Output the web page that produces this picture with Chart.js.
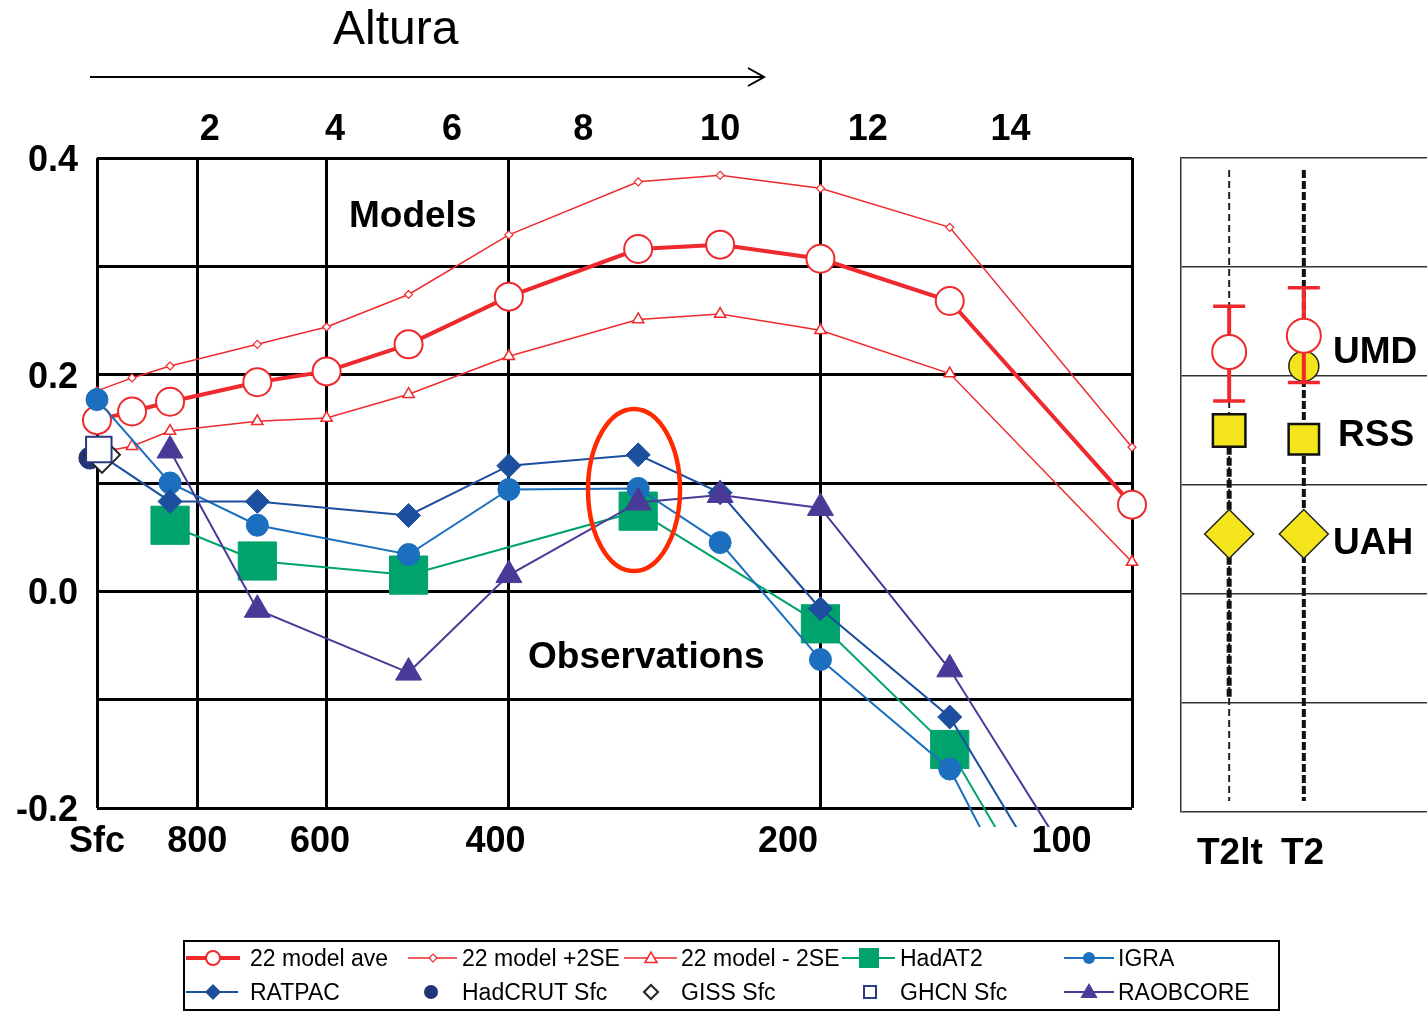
<!DOCTYPE html>
<html>
<head>
<meta charset="utf-8">
<script src="https://cdn.jsdelivr.net/npm/chart.js@4.4.1/dist/chart.umd.min.js"></script>
<style>
  html, body { margin: 0; padding: 0; background: #fff; }
  body { width: 1427px; height: 1012px; position: relative; overflow: hidden;
         font-family: "Liberation Sans", Arial, sans-serif; }
  canvas { position: absolute; }
  #main { left: 0; top: 0; }
  #side { left: 1170px; top: 140px; }
  .txt { position: absolute; line-height: 1; white-space: nowrap; color: #000; }
  .big { font-size: 37px; font-weight: bold; }
  .leg { font-size: 23px; }
  svg { position: absolute; left: 0; top: 0; }
</style>
</head>
<body>
<canvas id="main" width="1160" height="880"></canvas>
<canvas id="side" width="300" height="700"></canvas>

<svg width="1427" height="1012">
  <!-- altitude arrow -->
  <line x1="90" y1="77" x2="763" y2="77" stroke="#000" stroke-width="2"/>
  <path d="M748 68 L764 77 L748 86" stroke="#000" stroke-width="2" fill="none"/>
  <!-- highlight ellipse -->
  <ellipse cx="634" cy="490" rx="46" ry="81" fill="none" stroke="#ff2a00" stroke-width="4.5"/>
  <!-- legend box + icons -->
  <rect x="184" y="941" width="1095" height="69" fill="none" stroke="#000" stroke-width="2"/>
  <g id="legend-icons"></g>
</svg>

<div class="txt" style="left:333px;top:4px;font-size:48px;">Altura</div>
<div class="txt big" style="left:349px;top:196px;">Models</div>
<div class="txt big" style="left:528px;top:637px;">Observations</div>
<div class="txt big" style="left:1333px;top:332px;">UMD</div>
<div class="txt big" style="left:1338px;top:415px;">RSS</div>
<div class="txt big" style="left:1333px;top:523px;">UAH</div>
<div class="txt big" style="left:1197px;top:833px;">T2lt</div>
<div class="txt big" style="left:1281px;top:833px;">T2</div>

<div class="txt leg" style="left:250px;top:947px;">22 model ave</div>
<div class="txt leg" style="left:462px;top:947px;">22 model +2SE</div>
<div class="txt leg" style="left:681px;top:947px;">22 model - 2SE</div>
<div class="txt leg" style="left:900px;top:947px;">HadAT2</div>
<div class="txt leg" style="left:1118px;top:947px;">IGRA</div>
<div class="txt leg" style="left:250px;top:981px;">RATPAC</div>
<div class="txt leg" style="left:462px;top:981px;">HadCRUT Sfc</div>
<div class="txt leg" style="left:681px;top:981px;">GISS Sfc</div>
<div class="txt leg" style="left:900px;top:981px;">GHCN Sfc</div>
<div class="txt leg" style="left:1118px;top:981px;">RAOBCORE</div>

<script>
// Temperature trend profiles (K/decade) vs pressure level, models vs observations

// pressure levels (hPa), "Sfc" drawn at 1000
const P_LEVELS = [1000, 925, 850, 700, 600, 500, 400, 300, 250, 200, 150, 100];

const MODEL_AVE   = [0.158, 0.166, 0.175, 0.193, 0.203, 0.228, 0.272, 0.316, 0.320, 0.307, 0.268, 0.080];
const MODEL_PLUS  = [0.185, 0.197, 0.208, 0.228, 0.244, 0.274, 0.329, 0.378, 0.384, 0.372, 0.336, 0.133];
const MODEL_MINUS = [0.128, 0.134, 0.148, 0.157, 0.160, 0.182, 0.217, 0.251, 0.256, 0.241, 0.201, 0.027];

const RATPAC   = [0.128, null, 0.083, 0.083, null, 0.070, 0.116, 0.126, 0.091, -0.016, -0.116, -0.395];
const IGRA     = [0.177, null, 0.100, 0.061, null, 0.034, 0.094, 0.095, 0.045, -0.063, -0.164, -0.488];
const HADAT2   = [null, null, 0.061, 0.028, null, 0.015, null, 0.074, null, -0.030, -0.146, -0.433];
const RAOBCORE = [null, null, 0.130, -0.017, null, -0.075, 0.015, 0.082, 0.089, 0.077, -0.072, -0.340];

// surface-only records (pressure nudged a little so the markers sit side by side)
const HADCRUT_SFC = { p: 1016, v: 0.123 };
const GISS_SFC    = { p: 989,  v: 0.126 };
const GHCN_SFC    = { p: 996,  v: 0.131 };

// axis ticks
const GRID_P = [1000, 800, 600, 400, 200, 100];
const BOTTOM_TICK_P = [1000, 800, 609, 412, 215, 117];
const BOTTOM_TICK_TEXT = ["Sfc", "800", "600", "400", "200", "100"];
const ALT_TICK_P = [778, 589, 454, 339, 250, 180, 131];
const ALT_TICK_TEXT = ["2", "4", "6", "8", "10", "12", "14"];

// satellite layer panel
const TRACK_X = [1, 2.55];            // T2lt, T2
const UMD_MODEL = [0.222, 0.237];
const UMD_LO = [0.177, 0.194];
const UMD_HI = [0.264, 0.281];
const UMD_OBS = [null, 0.209];
const RSS = [0.150, 0.142];
const UAH = [0.055, 0.055];
const DASH_TOP = 0.389, DASH_BOTTOM = -0.190;
const T2LT_THICK = [0.135, -0.097];

const C = {
  red: "#ee2a2e",
  ratpac: "#1c4f9e",
  igra: "#1b6fbe",
  hadat: "#00a36b",
  raob: "#4a3a98",
  hadcrut: "#233479",
  giss: "#222222",
  ghcn: "#2a3a80",
  yellow: "#f3e41c",
};

const FONT = '"Liberation Sans", Arial, sans-serif';
const CLIP = { left: 40, top: 10, right: 25, bottom: 19 };

const levelPoints = (vals) => P_LEVELS.map((p, i) => ({ x: p, y: vals[i] }));

function obsSet(label, vals, color, style, radius) {
  return {
    label, data: levelPoints(vals),
    borderColor: color, borderWidth: 2, spanGaps: true, tension: 0, clip: CLIP,
    pointStyle: style, pointRadius: radius, pointBorderWidth: 1,
    pointBackgroundColor: color, pointBorderColor: color,
  };
}

function sfcSet(label, rec, style, radius, fill, stroke, bw) {
  return {
    label, data: [{ x: rec.p, y: rec.v }], showLine: false, clip: CLIP,
    pointStyle: style, pointRadius: radius, pointBorderWidth: bw,
    pointBackgroundColor: fill, pointBorderColor: stroke,
  };
}

// first dataset ends up on top
const mainSets = [
  sfcSet("GHCN Sfc", GHCN_SFC, "rect", 18, "#fff", C.ghcn, 2),
  sfcSet("GISS Sfc", GISS_SFC, "rectRot", 18, "#fff", C.giss, 2),
  sfcSet("HadCRUT Sfc", HADCRUT_SFC, "circle", 11, C.hadcrut, C.hadcrut, 1),
  obsSet("RAOBCORE", RAOBCORE, C.raob, "triangle", 15),
  obsSet("RATPAC", RATPAC, C.ratpac, "rectRot", 12),
  obsSet("IGRA", IGRA, C.igra, "circle", 11),
  obsSet("HadAT2", HADAT2, C.hadat, "rect", 27),
  {
    label: "22 model ave", data: levelPoints(MODEL_AVE),
    borderColor: C.red, borderWidth: 4, tension: 0, clip: CLIP,
    pointStyle: "circle", pointRadius: 14, pointBorderWidth: 2,
    pointBackgroundColor: "#fff", pointBorderColor: C.red,
  },
  {
    label: "22 model +2SE", data: levelPoints(MODEL_PLUS),
    borderColor: C.red, borderWidth: 1.5, tension: 0, clip: CLIP,
    pointStyle: "rectRot", pointRadius: 4, pointBorderWidth: 1.2,
    pointBackgroundColor: "#fff", pointBorderColor: C.red,
  },
  {
    label: "22 model - 2SE", data: levelPoints(MODEL_MINUS),
    borderColor: C.red, borderWidth: 1.5, tension: 0, clip: CLIP,
    pointStyle: "triangle", pointRadius: 6.5, pointBorderWidth: 1.5,
    pointBackgroundColor: "#fff", pointBorderColor: C.red,
  },
];

const tickFont = { family: FONT, size: 36, weight: "bold" };
const logAxis = { type: "logarithmic", axis: "x", reverse: true, min: 100, max: 1000 };

new Chart(document.getElementById("main"), {
  type: "line",
  data: { datasets: mainSets },
  options: {
    responsive: false,
    animation: false,
    events: [],
    layout: { padding: { left: 0, right: 28, top: 0, bottom: 0 } },
    plugins: { legend: { display: false }, tooltip: { enabled: false } },
    scales: {
      x: {
        ...logAxis, position: "bottom",
        afterBuildTicks: (s) => { s.ticks = GRID_P.map((v) => ({ value: v })); },
        ticks: { display: false },
        grid: { color: "#000", lineWidth: 3, drawTicks: false },
        border: { display: false },
        afterFit: (s) => { s.height = 0; },
      },
      xb: {
        ...logAxis, position: "bottom",
        afterBuildTicks: (s) => { s.ticks = BOTTOM_TICK_P.map((v) => ({ value: v })); },
        ticks: { autoSkip: false, maxRotation: 0, padding: 12, color: "#000", font: tickFont,
                 callback: (v, i) => BOTTOM_TICK_TEXT[i] },
        grid: { display: false, drawTicks: false },
        border: { display: false },
        afterFit: (s) => { s.height = 72; },
      },
      xt: {
        ...logAxis, position: "top",
        afterBuildTicks: (s) => { s.ticks = ALT_TICK_P.map((v) => ({ value: v })); },
        ticks: { autoSkip: false, maxRotation: 0, padding: 6, color: "#000", font: tickFont,
                 callback: (v, i) => ALT_TICK_TEXT[i] },
        grid: { display: false, drawTicks: false },
        border: { display: false },
        afterFit: (s) => { s.height = 158; },
      },
      y: {
        min: -0.2, max: 0.4,
        ticks: {
          stepSize: 0.1, padding: 19, labelOffset: 3, color: "#000", font: tickFont,
          callback: (v) => { const k = Math.round(v * 10); return k % 2 === 0 ? (k / 10).toFixed(1) : ""; },
        },
        grid: { color: "#000", lineWidth: 3, drawTicks: false },
        border: { display: false },
        afterFit: (s) => { s.width = 97; },
      },
    },
  },
});

// ---------- satellite layer panel ----------
const trackPoints = (vals) => TRACK_X.map((x, i) => ({ x, y: vals[i] }));
const vline = (x, y0, y1) => [{ x, y: y0 }, { x, y: y1 }];

const sideSets = [
  {
    label: "UMD model", data: trackPoints(UMD_MODEL), showLine: false,
    pointStyle: "circle", pointRadius: 17, pointBorderWidth: 2,
    pointBackgroundColor: "#fff", pointBorderColor: C.red,
  },
  ...TRACK_X.map((x, i) => ({
    label: "UMD range", data: vline(x, UMD_LO[i], UMD_HI[i]),
    borderColor: C.red, borderWidth: 4,
    pointStyle: "line", pointRadius: 16, pointBorderWidth: 3.5, pointBorderColor: C.red,
  })),
  {
    label: "UMD", data: trackPoints(UMD_OBS), showLine: false,
    pointStyle: "circle", pointRadius: 15, pointBorderWidth: 1.5,
    pointBackgroundColor: C.yellow, pointBorderColor: "#222",
  },
  {
    label: "RSS", data: trackPoints(RSS), showLine: false,
    pointStyle: "rect", pointRadius: [23, 21.5], pointBorderWidth: 2.5,
    pointBackgroundColor: C.yellow, pointBorderColor: "#111",
  },
  {
    label: "UAH", data: trackPoints(UAH), showLine: false,
    pointStyle: "rectRot", pointRadius: 24.5, pointBorderWidth: 1.5,
    pointBackgroundColor: C.yellow, pointBorderColor: "#222",
  },
  {
    label: "T2lt thick", data: vline(TRACK_X[0], T2LT_THICK[0], T2LT_THICK[1]),
    borderColor: "#111", borderWidth: 5, borderDash: [8, 3], pointRadius: 0,
  },
  {
    label: "T2lt", data: vline(TRACK_X[0], DASH_TOP, DASH_BOTTOM),
    borderColor: "#222", borderWidth: 2, borderDash: [7, 4], pointRadius: 0,
  },
  {
    label: "T2", data: vline(TRACK_X[1], DASH_TOP, DASH_BOTTOM),
    borderColor: "#111", borderWidth: 4, borderDash: [8, 3], pointRadius: 0,
  },
];

new Chart(document.getElementById("side"), {
  type: "line",
  data: { datasets: sideSets },
  options: {
    responsive: false,
    animation: false,
    events: [],
    layout: { autoPadding: false, padding: { left: 11, right: 0, top: 18, bottom: 28 } },
    plugins: { legend: { display: false }, tooltip: { enabled: false } },
    scales: {
      x: { type: "linear", display: false, min: 0, max: 6 },
      y: {
        min: -0.2, max: 0.4,
        ticks: { display: false, stepSize: 0.1 },
        grid: { color: "#333", lineWidth: 1.5, drawTicks: false },
        border: { display: true, color: "#333", width: 1.5 },
        afterFit: (s) => { s.width = 0; },
      },
    },
  },
});

// ---------- legend icons ----------
const icons = [];
const line = (x1, x2, y, col, w) => icons.push(`<line x1="${x1}" y1="${y}" x2="${x2}" y2="${y}" stroke="${col}" stroke-width="${w}"/>`);
const diamond = (cx, cy, r, fill, stroke, w) => icons.push(`<polygon points="${cx - r},${cy} ${cx},${cy - r} ${cx + r},${cy} ${cx},${cy + r}" fill="${fill}" stroke="${stroke}" stroke-width="${w}"/>`);
const tri = (cx, cy, r, fill, stroke, w) => icons.push(`<polygon points="${cx},${cy - r} ${cx + r * 0.866},${cy + r / 2} ${cx - r * 0.866},${cy + r / 2}" fill="${fill}" stroke="${stroke}" stroke-width="${w}"/>`);
const circ = (cx, cy, r, fill, stroke, w) => icons.push(`<circle cx="${cx}" cy="${cy}" r="${r}" fill="${fill}" stroke="${stroke}" stroke-width="${w}"/>`);
const sq = (cx, cy, s, fill, stroke, w) => icons.push(`<rect x="${cx - s / 2}" y="${cy - s / 2}" width="${s}" height="${s}" fill="${fill}" stroke="${stroke}" stroke-width="${w}"/>`);

const R1 = 958, R2 = 992;
line(186, 240, R1, C.red, 4); circ(213, R1, 7, "#fff", C.red, 2);
line(408, 457, R1, C.red, 1.5); diamond(433, R1, 4, "#fff", C.red, 1.2);
line(624, 677, R1, C.red, 1.5); tri(651, R1 + 1, 7, "#fff", C.red, 1.5);
line(842, 895, R1, C.hadat, 2); sq(869, R1, 20, C.hadat, C.hadat, 0);
line(1064, 1114, R1, C.igra, 2); circ(1089, R1, 6, C.igra, C.igra, 0);
line(186, 238, R2, C.ratpac, 2); diamond(213, R2, 8, C.ratpac, C.ratpac, 0);
circ(431, R2, 7, C.hadcrut, C.hadcrut, 0);
diamond(651, R2, 7, "#fff", C.giss, 2);
sq(870, R2, 12, "#fff", C.ghcn, 2);
line(1064, 1114, R2, C.raob, 2); tri(1089, R2 + 1, 10, C.raob, C.raob, 0);
document.getElementById("legend-icons").innerHTML = icons.join("");
</script>
</body>
</html>
